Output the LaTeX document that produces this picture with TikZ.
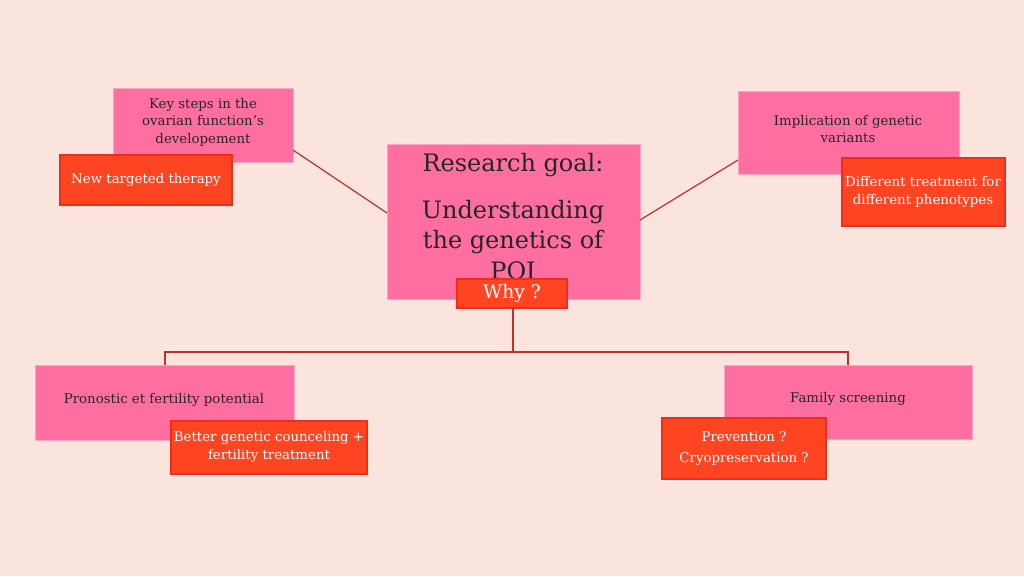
\documentclass[tikz,border=0pt]{standalone}
\usepackage{fontspec}
\setmainfont{DejaVu Serif}
\definecolor{bg}{HTML}{FCE4DE}
\definecolor{pk}{HTML}{FF6EA0}
\definecolor{pkb}{HTML}{F7A8C0}
\definecolor{rd}{HTML}{FF4422}
\definecolor{rdb}{HTML}{E8301A}
\definecolor{ln}{HTML}{C0302A}
\begin{document}
\begin{tikzpicture}[x=0.75pt,y=-0.75pt,
  pbox/.style={fill=pk,draw=pkb,line width=0.6pt},
  rbox/.style={fill=rd,draw=rdb,line width=0.8pt},
  txt/.style={align=center,font=\fontsize{10}{13}\selectfont,text=black!85},
  conn/.style={draw=ln,line width=0.9pt}]
\fill[bg] (0,0) rectangle (1024,576);
\useasboundingbox (0,0) rectangle (1024,576);
\draw[pbox] (113,88) rectangle (293,162);
\node[txt] (k) at (203,122) {Key steps in the\\ovarian function's\\developement};
\coordinate (kA) at (293,150);
\draw[rbox] (60,155) rectangle (232,205);
\node[txt,text=white] (nt) at (146,180) {New targeted therapy};
\draw[pbox] (387,144) rectangle (640,299);
\coordinate (cL) at (387,213);
\coordinate (cR) at (640,220);
\node[font=\fontsize{18}{23}\selectfont,text=black!85] (rg) at (513,165) {Research goal:};
\node[font=\fontsize{18}{23}\selectfont,align=center,text=black!85] (ug) at (513,240) {Understanding\\the genetics of\\POI};
\draw[pbox] (738,91) rectangle (959,174);
\coordinate (iA) at (738,160);
\node[txt] (im) at (848,129) {Implication of genetic\\variants};
\draw[rbox] (842,158) rectangle (1005,226);
\node[txt,text=white] (dt) at (923,192) {Different treatment for\\different phenotypes};
\draw[conn] (kA) -- (cL);
\draw[conn] (cR) -- (iA);
\draw[rbox] (457,279) rectangle (567,308);
\node[font=\fontsize{14}{16}\selectfont,text=white] (why) at (512,293) {Why ?};
\coordinate (wb) at (513,308);
\coordinate (j) at (513,352);
\coordinate (jl) at (165,352);
\coordinate (jr) at (848,352);
\coordinate (pl) at (165,365);
\coordinate (pr) at (848,365);
\draw[conn] (wb) -- (j);
\draw[conn] (pl) -- (jl) -- (jr) -- (pr);
\draw[pbox] (35,365) rectangle (294,440);
\node[txt] (pf) at (164,400) {Pronostic et fertility potential};
\draw[rbox] (171,421) rectangle (367,474);
\node[txt,text=white] (bg2) at (269,447) {Better genetic counceling +\\fertility treatment};
\draw[pbox] (724,365) rectangle (972,439);
\node[txt] (fs) at (848,399) {Family screening};
\draw[rbox] (662,418) rectangle (826,479);
\node[txt,text=white] (pv) at (744,437) {Prevention ?};
\node[txt,text=white] (cp) at (744,459) {Cryopreservation ?};
\end{tikzpicture}
\end{document}
